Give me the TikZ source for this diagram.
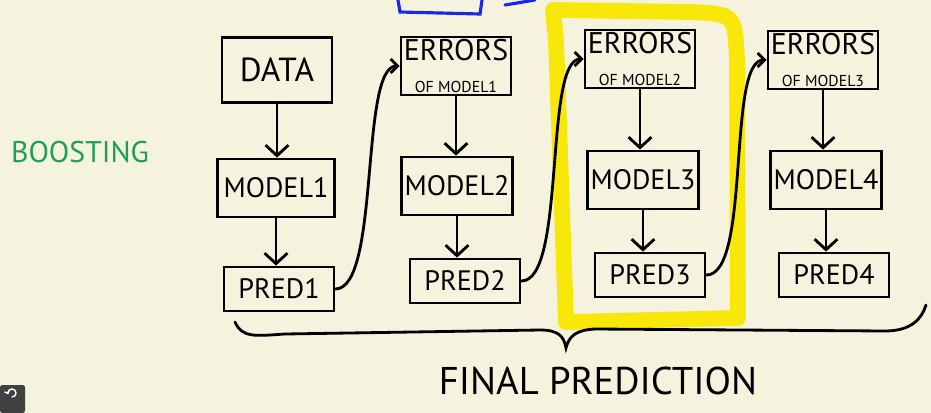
\documentclass[tikz,border=0pt]{standalone}
\usepackage{fontspec}
\setmainfont{PT Sans}
\usetikzlibrary{arrows.meta}
\definecolor{paper}{RGB}{245,242,222}
\definecolor{marker}{RGB}{248,232,10}
\definecolor{pen}{RGB}{25,40,225}
\definecolor{green}{RGB}{30,160,80}
\newcommand{\hugetxt}{\fontsize{22}{24}\selectfont}
\newcommand{\bigtxt}{\fontsize{19}{21}\selectfont}
\newcommand{\errtxt}{\fontsize{17}{18}\selectfont}
\newcommand{\midtxt}{\fontsize{16}{18}\selectfont}
\newcommand{\smalltxt}{\fontsize{9}{10}\selectfont}
\begin{document}
\begin{tikzpicture}[x=0.02cm, y=-0.02cm, line width=1.6pt, line cap=round,
  box/.style={draw, minimum width=2.2cm, minimum height=1.16cm, font=\midtxt, inner sep=2pt},
  predbox/.style={box, minimum height=0.88cm},
  errbox/.style={box, align=center, inner sep=1pt},
  flow/.style={-{Straight Barb[length=6pt, width=13pt]}},
  hop/.style={-{Straight Barb[length=4pt, width=8pt]}}]
\useasboundingbox[fill=paper] (0,0) rectangle (931,413);
% highlight of the third step
\draw[marker, line width=9pt, line join=round]
  (553,10) -- (690,12) .. controls (735,14) .. (737,60) -- (738,318) -- (566,322) -- (556,40) -- cycle;
% sketch leftovers at the top
\draw[pen, line width=1.8pt] (398,0) -- (400,12) -- (480,14) -- (482,0);
\draw[pen, line width=1.8pt] (505,5) .. controls (520,3) .. (535,0);
% title
\node[green, font=\fontsize{17}{19}\selectfont] (title) at (80,152) {BOOSTING};
% first column
\node[box, font=\bigtxt, minimum height=1.3cm] (data) at (277,70) {DATA};
\node[box, minimum width=2.34cm] (model1) at (276,188) {MODEL1};
\node[predbox] (pred1) at (279,289) {PRED1};
% second column
\node[errbox] (err1) at (456,66) {\errtxt ERRORS\\ \smalltxt OF MODEL1};
\node[box] (model2) at (457,186) {MODEL2};
\node[predbox] (pred2) at (465,281) {PRED2};
% third column
\node[errbox] (err2) at (640,59) {\errtxt ERRORS\\ \smalltxt OF MODEL2};
\node[box] (model3) at (643,180) {MODEL3};
\node[predbox] (pred3) at (650,275) {PRED3};
% fourth column
\node[errbox] (err3) at (823,60) {\errtxt ERRORS\\ \smalltxt OF MODEL3};
\node[box] (model4) at (826,180) {MODEL4};
\node[predbox] (pred4) at (834,275) {PRED4};
% result
\node[font=\hugetxt] (final) at (598,381) {FINAL PREDICTION};
%%%%%%%%%%%%%%%%
\draw[flow] (data.south) -- (data.south |- model1.north);
\draw[flow] (model1.south) -- (model1.south |- pred1.north);
\draw[flow] (err1.south) -- (err1.south |- model2.north);
\draw[flow] (model2.south) -- (model2.south |- pred2.north);
\draw[flow] (err2.south) -- (err2.south |- model3.north);
\draw[flow] (model3.south) -- (model3.south |- pred3.north);
\draw[flow] (err3.south) -- (err3.south |- model4.north);
\draw[flow] (model4.south) -- (model4.south |- pred4.north);
\draw[hop] (pred1.east) .. controls +(45,0) and +(-40,0) .. (err1.west);
\draw[hop] (pred2.east) .. controls +(45,0) and +(-40,0) .. (err2.west);
\draw[hop] (pred3.east) .. controls +(45,0) and +(-40,0) .. (err3.west);
% brace over all predictions
\draw (235,322) .. controls (242,338) and (255,336) .. (285,334) -- (540,330)
  .. controls (558,330) and (564,336) .. (566,348)
  .. controls (569,336) and (576,330) .. (595,329) -- (885,331)
  .. controls (912,331) and (922,318) .. (926,305);
% player button
\fill[black!75, rounded corners=1pt] (0,385) rectangle (25,413);
\draw[white, line width=0.8pt, -{Straight Barb[length=1.5pt, width=3pt]}] (12,397) arc[start angle=90, end angle=-200, radius=4];
\end{tikzpicture}
\end{document}
